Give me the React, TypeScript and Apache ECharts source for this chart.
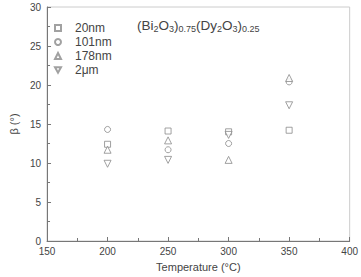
import React, { useEffect, useRef } from "react";
import * as echarts from "echarts";

const temperatures = [200, 250, 300, 350];
const s20nm = [12.4, 14.1, 14.0, 14.2];
const s101nm = [14.3, 11.7, 12.5, 20.4];
const s178nm = [11.7, 12.9, 10.4, 20.9];
const s2um = [9.9, 10.4, 13.6, 17.4];
const seriesNames = ["20nm", "101nm", "178nm", "2\u03bcm"];

const downTri = "path://M0,0L10,0L5,9Z";

export default function App() {
  const ref = useRef<HTMLDivElement>(null);
  useEffect(() => {
    if (!ref.current) return;
    const chart = echarts.init(ref.current, null, { renderer: "svg" });
    const mk = (name: string, vals: number[], symbol: string, size: number) => ({
      name,
      type: "scatter",
      symbol,
      symbolSize: size,
      data: temperatures.map((t, i) => [t, vals[i]]),
      itemStyle: { color: "#fff", borderColor: "#8a8a8a", borderWidth: 1 },
    });
    const font = "Liberation Sans, Arial, sans-serif";
    const axisText = { color: "#444", fontSize: 10, fontFamily: font };
    chart.setOption({
      animation: false,
      backgroundColor: "#fff",
      grid: { left: 31, top: 7, right: 9, bottom: 33, show: true, borderColor: "#ccc", borderWidth: 1 },
      legend: {
        orient: "vertical",
        left: 49,
        top: 17,
        itemWidth: 6,
        itemHeight: 6,
        itemGap: 2,
        data: seriesNames,
        textStyle: { color: "#444", fontSize: 12, lineHeight: 12, fontFamily: font, padding: [0, 0, 0, 9] },
      },
      xAxis: {
        type: "value",
        min: 150,
        max: 400,
        interval: 50,
        name: "Temperature (\u00b0C)",
        nameLocation: "middle",
        nameGap: 20,
        nameTextStyle: { ...axisText, fontSize: 11 },
        axisLine: { lineStyle: { color: "#777" } },
        axisTick: { inside: true, length: 4, lineStyle: { color: "#777" } },
        minorTick: { show: true, splitNumber: 2, length: 3, lineStyle: { color: "#777" } },
        splitLine: { show: false },
        axisLabel: { ...axisText, margin: 5 },
      },
      yAxis: {
        type: "value",
        min: 0,
        max: 30,
        interval: 5,
        name: "\u03b2 (\u00b0)",
        nameLocation: "middle",
        nameGap: 21,
        nameTextStyle: { ...axisText, fontSize: 11 },
        axisLine: { show: true, lineStyle: { color: "#777" } },
        axisTick: { show: true, inside: true, length: 4, lineStyle: { color: "#777" } },
        minorTick: { show: true, splitNumber: 2, length: 3, lineStyle: { color: "#777" } },
        splitLine: { show: false },
        axisLabel: { ...axisText, margin: 6 },
      },
      graphic: [
        {
          type: "text",
          left: 137,
          top: 18,
          style: {
            text: "(Bi{s|2}O{s|3}){s|0.75}(Dy{s|2}O{s|3}){s|0.25}",
            fill: "#444",
            fontSize: 13.5,
            fontFamily: font,
            rich: {
              s: { fontSize: 9, padding: [7, 0, 0, 0], fill: "#444", fontFamily: font },
            },
          },
        },
      ],
      series: [
        mk(seriesNames[0], s20nm, "rect", 6),
        mk(seriesNames[1], s101nm, "circle", 6),
        mk(seriesNames[2], s178nm, "triangle", 7),
        mk(seriesNames[3], s2um, downTri, 7),
      ],
    });
    return () => chart.dispose();
  }, []);
  return <div ref={ref} style={{ width: 361, height: 277, position: "absolute", left: 0, top: 0 }} />;
}
